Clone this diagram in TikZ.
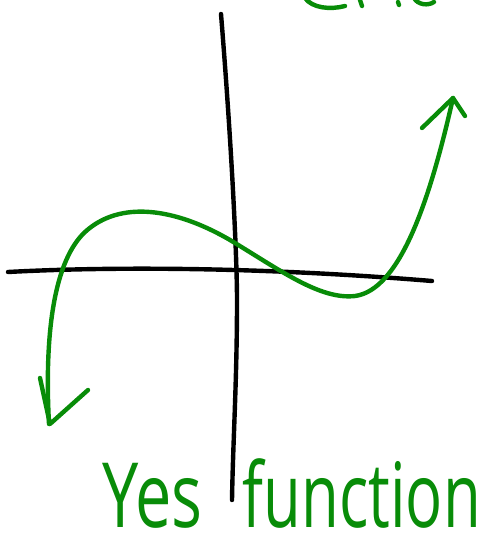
\documentclass[tikz,border=0pt]{standalone}
\usepackage{fontspec}
\setmainfont{Open Sans}
\usepackage{xcolor}
\usetikzlibrary{positioning}
\definecolor{pen}{RGB}{8,140,8}
\begin{document}
\begin{tikzpicture}[x=1pt, y=-1pt]
              \tikzset{ink/.style={line width=4.4pt, line cap=round, line join=round},
                       axis/.style={ink, black},
                       graph/.style={ink, pen},
                       word/.style={pen, font=\fontsize{90}{92}\selectfont, xscale=0.72, inner sep=0pt, anchor=base west}}

              \useasboundingbox (0,0) rectangle (488,553);
              \clip (0,0) rectangle (488,553);

              % axes
              \draw[axis] (221,14) .. controls (232,150) and (237,260) .. (237,300) .. controls (237,380) and (233,440) .. (232,500);
              \draw[axis] (8,272) .. controls (100,267) and (250,266) .. (432,281);

              % the cubic
              \draw[graph] (49,424) .. controls (44,330) and (55,260) .. (85,232)
                           .. controls (120,200) and (175,208) .. (230,240)
                           .. controls (280,270) and (320,300) .. (355,296)
                           .. controls (400,290) and (430,200) .. (453,98);
              \draw[graph] (422,128) -- (453,98) -- (465,116);
              \draw[graph] (40,378) -- (50,424) -- (88,390);

              % cut-off heading
              \draw[graph] (305,-2) .. controls (312,8) and (330,10) .. (345,6);
              \draw[graph] (360,0) -- (362,6);
              \draw[graph] (398,2) -- (399,5);
              \draw[graph] (414,-2) .. controls (418,5) and (428,6) .. (434,2);

              \node[word] (yes) at (102,527) {Yes};
              \node[word, xscale=0.95, right=40pt of yes.base east, anchor=base west] (func) {function};
            \end{tikzpicture}
\end{document}
